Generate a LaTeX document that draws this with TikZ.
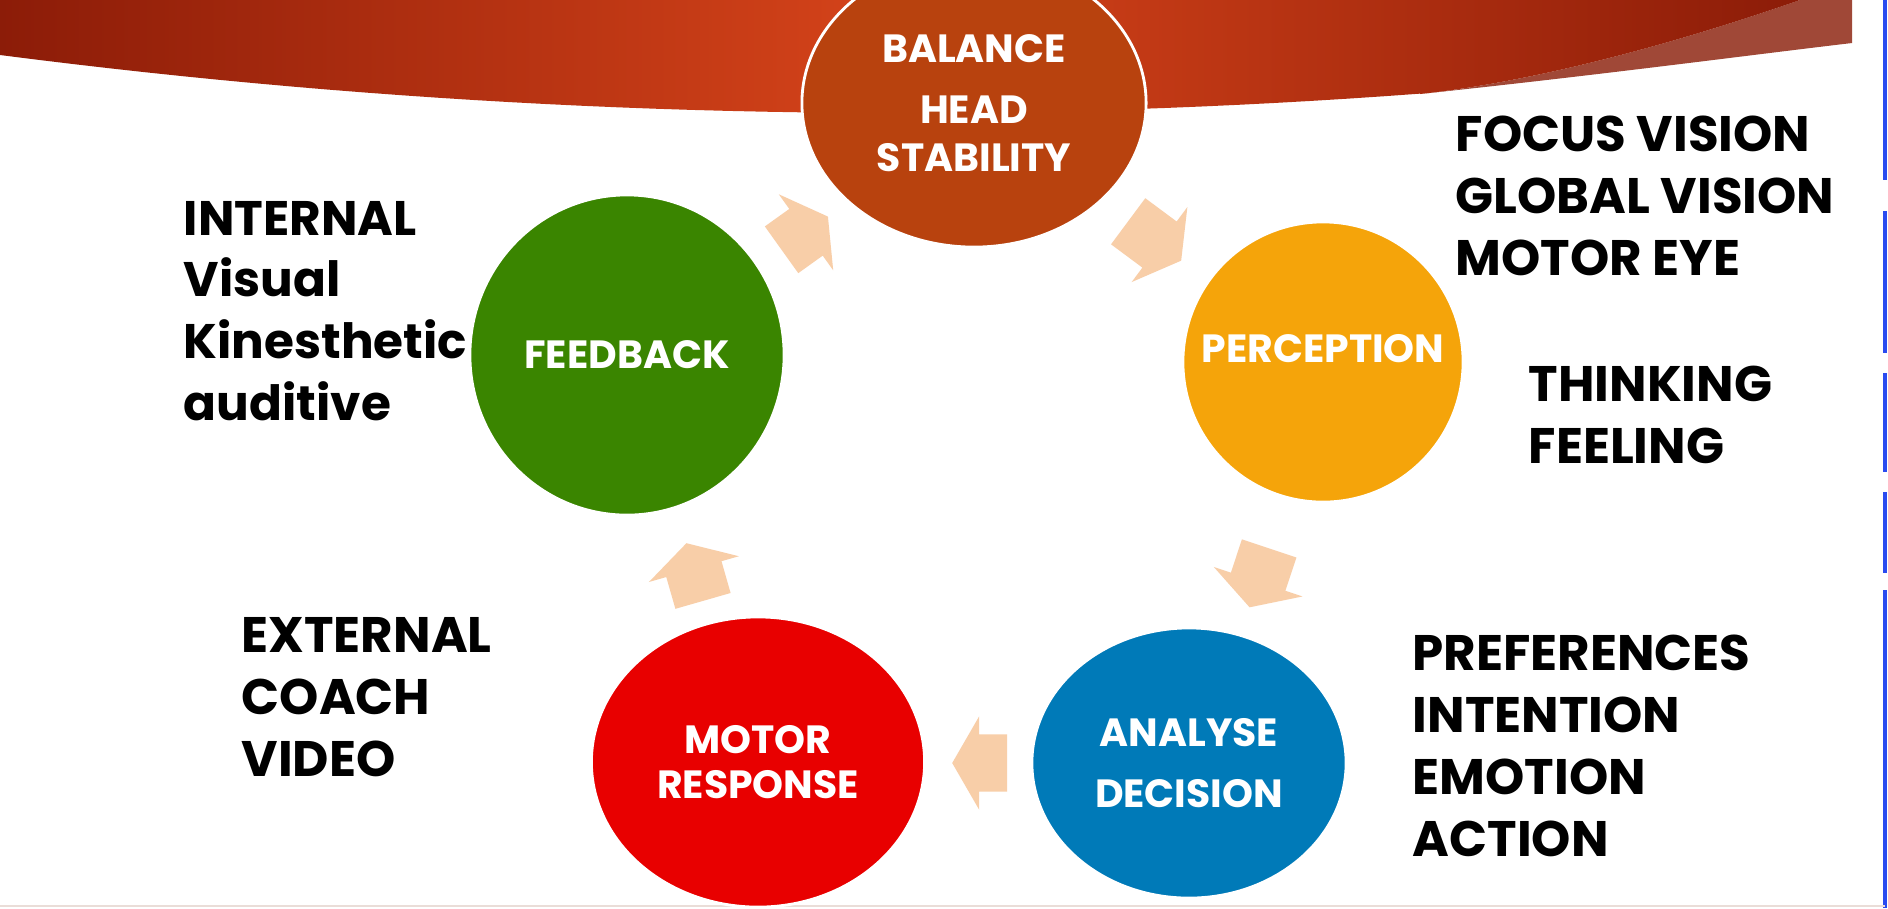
\documentclass[tikz,border=0pt]{standalone}
\usepackage{fontspec}
\setmainfont{Poppins}
\usepackage{tikz}
\usetikzlibrary{shapes.geometric,shapes.arrows,positioning,calc}

\definecolor{bannerdark}{RGB}{140,28,8}
\definecolor{bannerlight}{RGB}{214,68,26}
\definecolor{bannertail}{RGB}{160,72,55}
\definecolor{balancebrown}{RGB}{184,66,14}
\definecolor{perceptionorange}{RGB}{245,164,10}
\definecolor{analyseblue}{RGB}{0,122,184}
\definecolor{motorred}{RGB}{232,0,0}
\definecolor{feedbackgreen}{RGB}{58,133,0}
\definecolor{arrowpeach}{RGB}{248,206,168}
\definecolor{edgeblue}{RGB}{42,75,240}
\definecolor{floorline}{RGB}{234,221,216}

% label lines that do not widen the ellipse
\newcommand{\lbl}[1]{\makebox[0pt]{#1}}

\tikzset{
  stage/.style={ellipse, draw=white, line width=0.8pt, inner sep=0pt, text=white, align=center,
    font=\bfseries\fontsize{11.2}{17.4}\selectfont},
  cyclearrow/.style={single arrow, fill=arrowpeach, draw=none, inner xsep=0pt, inner ysep=0.28cm,
    single arrow head extend=0.18cm, single arrow tip angle=120},
  sidetext/.style={anchor=west, inner sep=0pt, align=left, font=\bfseries\fontsize{14.2}{17.6}\selectfont},
}

\begin{document}
\begin{tikzpicture}[x=0.01cm, y=-0.01cm]
  \useasboundingbox (0,0) rectangle (1888,908);
  \fill[white] (0,0) rectangle (1888,908);

  % Banner
  \fill[bannertail] (1420,94) .. controls (1600,75) and (1750,55) .. (1852,43) -- (1852,0) -- (1800,0)
    .. controls (1700,35) and (1550,80) .. (1420,94) -- cycle;
  \shade[left color=bannerdark, right color=bannerdark, middle color=bannerlight]
    (0,0) -- (1800,0) .. controls (1700,35) and (1550,80) .. (1420,94)
    -- plot[domain=1420:0, samples=40] (\x, {113-0.716*(\x/100-9)^2}) -- cycle;

  % Slide edges
  \draw[edgeblue, line width=0.9pt] (1885,0) -- (1885,180) (1885,211) -- (1885,353)
    (1885,373) -- (1885,472) (1885,492) -- (1885,573) (1885,590) -- (1885,908);
  \draw[floorline, line width=0.8pt] (0,906) -- (1885,906);

  % Cycle
  \node[stage, fill=balancebrown, minimum width=3.44cm, minimum height=2.88cm,
    font=\bfseries\fontsize{11.2}{13.4}\selectfont] (balance) at (974,103)
    {\lbl{BALANCE}\\[4pt]\lbl{HEAD}\\\lbl{STABILITY}};
  \node[stage, fill=perceptionorange, minimum size=2.8cm] (perception) at (1323,362)
    {\raisebox{0.28cm}{\lbl{PERCEPTION}}};
  \node[stage, fill=analyseblue, minimum width=3.14cm, minimum height=2.7cm] (analyse) at (1189,763)
    {\lbl{ANALYSE}\\\lbl{DECISION}};
  \node[stage, fill=motorred, minimum width=3.33cm, minimum height=2.9cm,
    font=\bfseries\fontsize{11.2}{12.8}\selectfont] (motor) at (758,762)
    {\lbl{MOTOR}\\\lbl{RESPONSE}};
  \node[stage, fill=feedbackgreen, minimum width=3.14cm, minimum height=3.2cm] (feedback) at (627,355)
    {\lbl{FEEDBACK}};

  % Arrows between the stages
  \node[cyclearrow, minimum height=0.57cm, rotate=35.6] (toBalance) at (798,238) {};
  \node[cyclearrow, minimum height=0.66cm, rotate=-36.6] (toPerception) at (1148,236) {};
  \node[cyclearrow, minimum height=0.62cm, rotate=-108.4] (toAnalyse) at (1262,570) {};
  \node[cyclearrow, minimum height=0.55cm, rotate=180] (toMotor) at (988,763) {};
  \node[cyclearrow, minimum height=0.60cm, rotate=106] (toFeedback) at (697,580) {};

  % Side notes
  \node[sidetext, font=\bfseries\fontsize{13.8}{17.6}\selectfont] (internal) at (183,311)
    {INTERNAL\\Visual\\Kinesthetic\\auditive};
  \node[sidetext] (vision) at (1455,196) {FOCUS VISION\\GLOBAL VISION\\MOTOR EYE};
  \node[sidetext] (thinking) at (1528,415) {THINKING\\FEELING};
  \node[sidetext] (preferences) at (1412,746) {PREFERENCES\\INTENTION\\EMOTION\\ACTION};
  \node[sidetext] (external) at (241,697) {EXTERNAL\\COACH\\VIDEO};
\end{tikzpicture}
\end{document}
